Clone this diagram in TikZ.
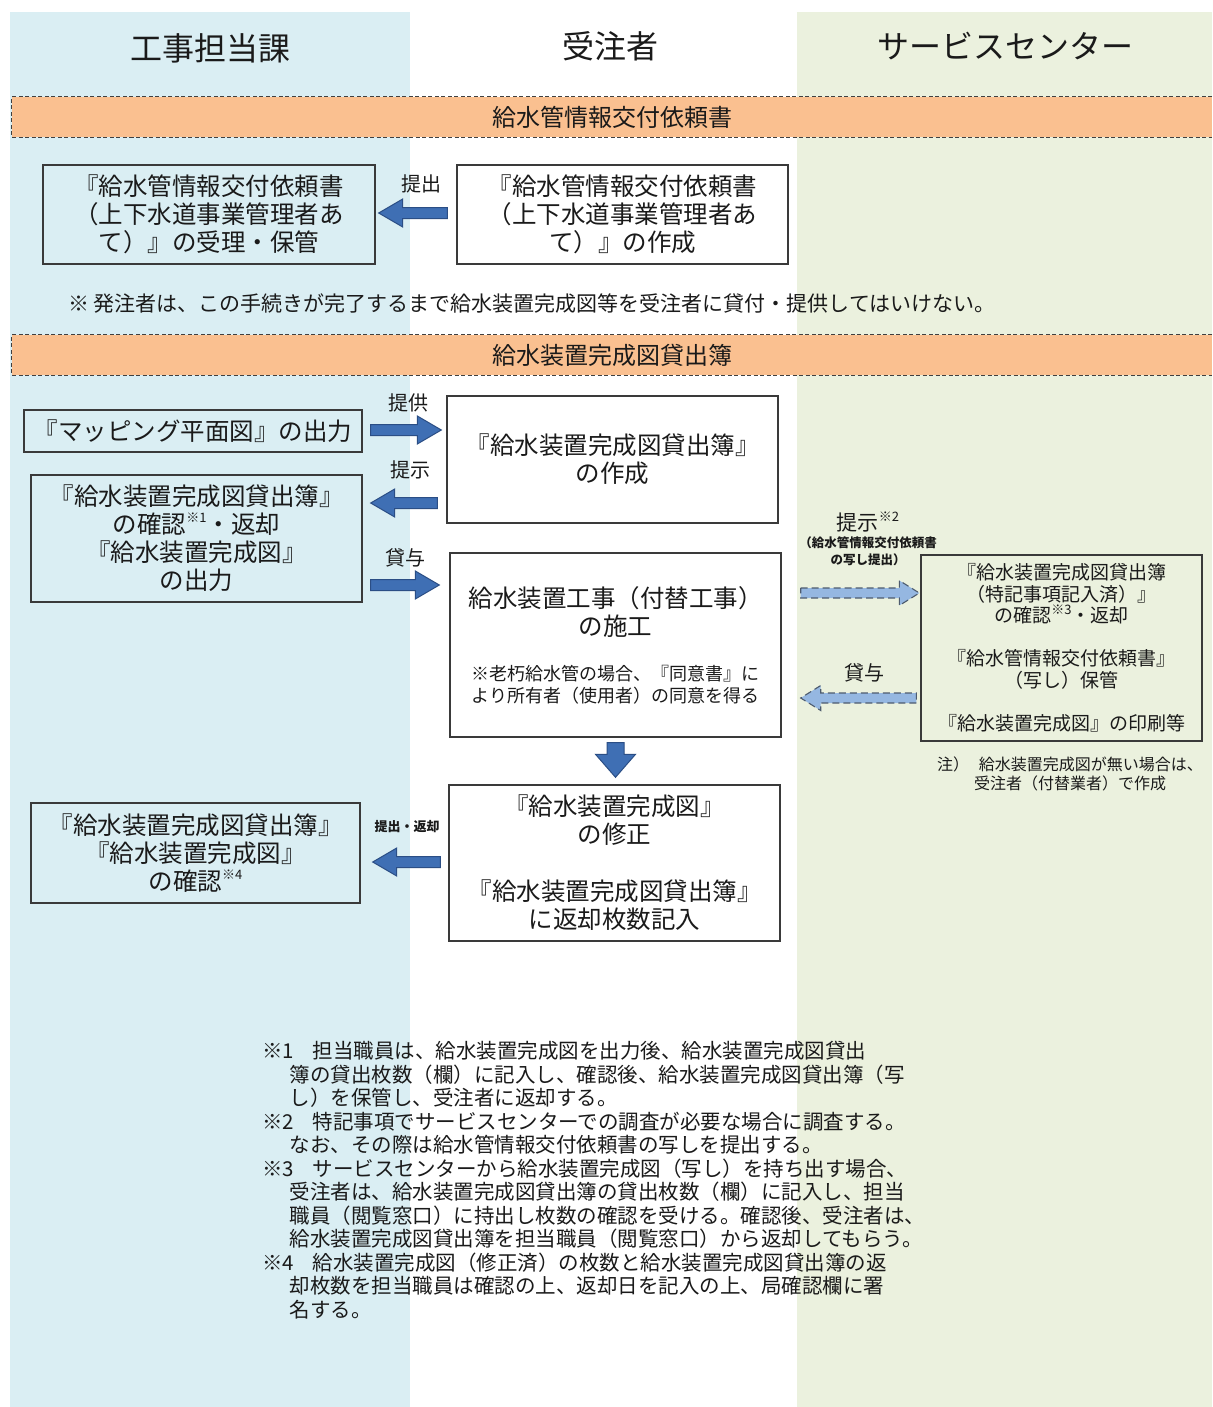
\documentclass[tikz,border=0pt]{standalone}
\usepackage{fontspec}
\setmainfont{Noto Sans CJK JP}
\usetikzlibrary{calc}
\definecolor{colblue}{HTML}{DAEEF3}
\definecolor{colgreen}{HTML}{EBF1DE}
\definecolor{bandorange}{HTML}{FAC090}
\definecolor{boxline}{HTML}{3A3A3A}
\definecolor{arrfill}{HTML}{3F6FB4}
\definecolor{arrline}{HTML}{2B4E85}
\definecolor{dashfill}{HTML}{95B7E1}
\definecolor{dashline}{HTML}{4D5B6E}
\definecolor{txt}{HTML}{1A1A1A}
\newcommand{\supnote}[1]{\raisebox{0.45em}{\fontsize{13}{13}\selectfont #1}}
\newcommand{\blkarrow}[6]{%
  \coordinate (bS) at (#2);
  \coordinate (bE) at (#3);
  \coordinate (bH) at ($(bE)!#6!(bS)$);
  \draw[#1] ($(bS)!#4!90:(bE)$) -- ($(bH)!#4!90:(bE)$) -- ($(bH)!#5!90:(bE)$) -- (bE)
    -- ($(bH)!#5!-90:(bE)$) -- ($(bH)!#4!-90:(bE)$) -- ($(bS)!#4!-90:(bE)$) -- cycle;
}
\tikzset{
  box/.style={draw=boxline, line width=1.4pt, inner sep=0pt, align=center, text=txt,
    font=\fontsize{24.5}{28}\selectfont},
  mbox/.style={box, fill=white},
  hdr/.style={font=\fontsize{32}{32}\selectfont, text=txt, inner sep=0pt},
  band/.style={fill=bandorange, minimum width=1200, minimum height=40, inner sep=0pt,
    font=\fontsize{24}{24}\selectfont, text=txt},
  bandline/.style={draw=black!75, line width=1.2pt, dash pattern=on 4pt off 2.5pt},
  lbl/.style={font=\fontsize{20}{20}\selectfont, inner sep=0pt, text=txt},
  solidarr/.style={fill=arrfill, draw=arrline, line width=1pt, line join=miter},
  dasharr/.style={fill=dashfill, draw=dashline, line width=1.1pt, dash pattern=on 7pt off 4pt},
}
\begin{document}
\begin{tikzpicture}[x=1pt, y=-1pt]
\useasboundingbox (0,0) rectangle (1212,1407);
\fill[white] (0,0) rectangle (1212,1407);
% columns
\fill[colblue] (10,12) rectangle (410,1407);
\fill[colgreen] (797,12) rectangle (1212,1407);
% headers
\node[hdr] (h1) at (210,48) {工事担当課};
\node[hdr] (h2) at (610,46) {受注者};
\node[hdr] (h3) at (1005,46) {サービスセンター};
% band 1
\node[band] (band1) at (612,117) {給水管情報交付依頼書};
\draw[bandline] (band1.north east) -- (band1.north west) -- (band1.south west) -- (band1.south east);
% section 1
\node[box, minimum width=332, minimum height=99, text width=326] (A1) at (209,214.5)
  {『給水管情報交付依頼書\\（上下水道事業管理者あ\\て）』の受理・保管};
\node[mbox, minimum width=331, minimum height=99, text width=325] (A2) at (622.5,214.5)
  {『給水管情報交付依頼書\\（上下水道事業管理者あ\\て）』の作成};
\blkarrow{solidarr}{$(A2.west)+(-9,-1.5)$}{$(A1.east)+(3,-1.5)$}{5.5pt}{14pt}{24pt}
\node[lbl] (l1) at (421,184) {提出};
\node[anchor=west, inner sep=0pt, text=txt, font=\fontsize{21}{24}\selectfont] (topnote) at (68,304)
  {※ 発注者は、この手続きが完了するまで給水装置完成図等を受注者に貸付・提供してはいけない。};
% band 2
\node[band] (band2) at (612,355) {給水装置完成図貸出簿};
\draw[bandline] (band2.north east) -- (band2.north west) -- (band2.south west) -- (band2.south east);
% section 2
\node[box, minimum width=338, minimum height=42, text width=334] (B1) at (193,431)
  {『マッピング平面図』の出力};
\node[mbox, minimum width=331, minimum height=127, text width=325] (B2) at (612.5,459.5)
  {『給水装置完成図貸出簿』\\の作成};
\node[box, minimum width=331, minimum height=127, text width=325] (B3) at (196.5,538.5)
  {『給水装置完成図貸出簿』\\の確認\supnote{※1}・返却\\『給水装置完成図』\\の出力};
\node[mbox, minimum width=331, minimum height=184, text width=325] (B4) at (615.5,645)
  {{\fontsize{24.5}{28}\selectfont 給水装置工事（付替工事）\\の施工\par}\vspace{23pt}%
   {\fontsize{18}{22}\selectfont ※老朽給水管の場合、『同意書』に\\より所有者（使用者）の同意を得る\par}};
\node[box, minimum width=281, minimum height=186, text width=277, font=\fontsize{19}{21.5}\selectfont] (C1) at (1061.5,648)
  {『給水装置完成図貸出簿\\（特記事項記入済）』\\の確認\supnote{※3}・返却\\[21.5pt]『給水管情報交付依頼書』\\（写し）保管\\[21.5pt]『給水装置完成図』の印刷等};
\node[mbox, minimum width=331, minimum height=156, text width=325] (B5) at (614.5,863)
  {『給水装置完成図』\\の修正\\[29pt]『給水装置完成図貸出簿』\\に返却枚数記入};
\node[box, minimum width=329, minimum height=100, text width=325] (B6) at (195.5,853)
  {『給水装置完成図貸出簿』\\『給水装置完成図』\\の確認\supnote{※4}};
% arrows
\blkarrow{solidarr}{$(B1.east)+(8,-1)$}{$(B2.west |- B1.east)+(-5,-1)$}{5.5pt}{14pt}{24pt}
\node[lbl] (l2) at (408,403) {提供};
\blkarrow{solidarr}{$(B2.west)+(-9,43.5)$}{$(B3.east)+(8,-35.5)$}{5.5pt}{14pt}{24pt}
\node[lbl] (l3) at (410,470) {提示};
\blkarrow{solidarr}{$(B3.east)+(8,46.5)$}{$(B4.west)+(-10,-60)$}{5.5pt}{14pt}{24pt}
\node[lbl] (l4) at (405,558) {貸与};
\blkarrow{dasharr}{$(B4.east)+(19,-52)$}{$(C1.west)+(-1,-55)$}{5pt}{12.5pt}{20pt}
\node[lbl, font=\fontsize{21}{21}\selectfont] (l5) at (868,522) {提示\supnote{※2}};
\node[inner sep=0pt, align=center, text=txt, font=\bfseries\fontsize{12.5}{17}\selectfont] (l5b) at (868,551)
  {（給水管情報交付依頼書\\の写し提出）};
\blkarrow{dasharr}{$(C1.west)+(-4,50)$}{$(B4.east)+(19,53)$}{5pt}{12.5pt}{20pt}
\node[lbl] (l6) at (864,673) {貸与};
\node[inner sep=0pt, align=center, text=txt, font=\fontsize{16}{18.5}\selectfont] (note2) at (1070,774)
  {注）\hspace{0.6em}給水装置完成図が無い場合は、\\受注者（付替業者）で作成};
\blkarrow{solidarr}{$(B4.south)+(0,5)$}{$(B5.north)+(1,-7)$}{8.5pt}{20pt}{23pt}
\blkarrow{solidarr}{$(B5.west)+(-8,-1)$}{$(B6.east)+(12,9)$}{5.5pt}{14pt}{24pt}
\node[lbl, font=\bfseries\fontsize{13}{13}\selectfont] (l7) at (407,827) {提出・返却};
% footnotes
\node[anchor=north west, text width=700, align=left, inner sep=0pt, text=txt,
  font=\fontsize{20.5}{23.5}\selectfont] (notes) at (262,1041) {%
※1\hspace{0.9em}担当職員は、給水装置完成図を出力後、給水装置完成図貸出\\
\hspace*{1.35em}簿の貸出枚数（欄）に記入し、確認後、給水装置完成図貸出簿（写\\
\hspace*{1.35em}し）を保管し、受注者に返却する。\\
※2\hspace{0.9em}特記事項でサービスセンターでの調査が必要な場合に調査する。\\
\hspace*{1.35em}なお、その際は給水管情報交付依頼書の写しを提出する。\\
※3\hspace{0.9em}サービスセンターから給水装置完成図（写し）を持ち出す場合、\\
\hspace*{1.35em}受注者は、給水装置完成図貸出簿の貸出枚数（欄）に記入し、担当\\
\hspace*{1.35em}職員（閲覧窓口）に持出し枚数の確認を受ける。確認後、受注者は、\\
\hspace*{1.35em}給水装置完成図貸出簿を担当職員（閲覧窓口）から返却してもらう。\\
※4\hspace{0.9em}給水装置完成図（修正済）の枚数と給水装置完成図貸出簿の返\\
\hspace*{1.35em}却枚数を担当職員は確認の上、返却日を記入の上、局確認欄に署\\
\hspace*{1.35em}名する。};
\end{tikzpicture}
\end{document}
